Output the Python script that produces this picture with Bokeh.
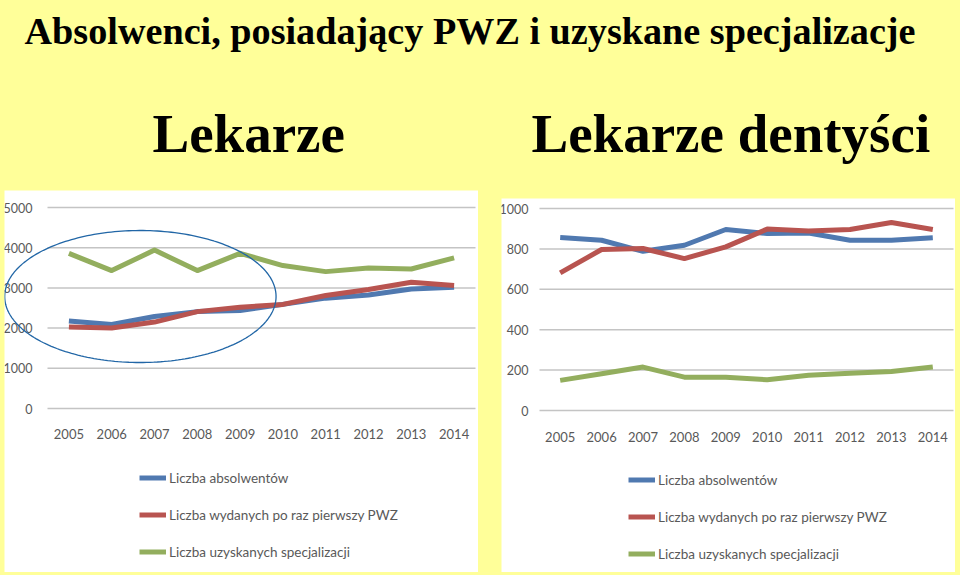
import numpy as np
from bokeh.plotting import figure
from bokeh.layouts import column, row
from bokeh.models import (Range1d, FixedTicker, Legend, LegendItem, PolyAnnotation, Label)
from bokeh.embed import file_html
from bokeh.resources import INLINE

# ---------------- data ----------------
years = [2005, 2006, 2007, 2008, 2009, 2010, 2011, 2012, 2013, 2014]

lek_absolwenci = [2175, 2090, 2290, 2410, 2440, 2590, 2745, 2825, 2975, 3015]
lek_pwz = [2025, 2000, 2150, 2410, 2520, 2590, 2810, 2960, 3140, 3060]
lek_specjalizacje = [3860, 3430, 3940, 3430, 3860, 3555, 3405, 3495, 3470, 3745]

den_absolwenci = [856, 843, 788, 818, 896, 876, 879, 843, 843, 855]
den_pwz = [681, 797, 802, 752, 810, 898, 889, 896, 931, 896]
den_specjalizacje = [149, 182, 215, 165, 165, 152, 174, 185, 193, 215]

lek_yticks = [0, 1000, 2000, 3000, 4000, 5000]
den_yticks = [0, 200, 400, 600, 800, 1000]

series_names = ["Liczba absolwentów",
                "Liczba wydanych po raz pierwszy PWZ",
                "Liczba uzyskanych specjalizacji"]

title_text = "Absolwenci, posiadający PWZ i uzyskane specjalizacje"
left_title = "Lekarze"
right_title = "Lekarze dentyści"

# ---------------- styles ----------------
YELLOW = "#FFFF99"
COLORS = ["#5079B0", "#B85450", "#93AE5E"]
AXIS_FONT = "Lato"
TICK_COLOR = "#595959"
GRID_COLOR = "#C4C4C4"


def make_chart(series, yticks, width, height, plot_left, plot_right, plot_top, plot_bottom,
               x_standoff, y_standoff, legend_loc):
    """The frame covers the whole white panel; the plotting area inside it is
    given in pixels (plot_left/right from the panel's left, plot_top/bottom from its top)."""
    x0, x1 = years[0] - 0.5, years[-1] + 0.5
    xs_per_px = (x1 - x0) / (plot_right - plot_left)
    ymin, ymax = yticks[0], yticks[-1]
    ys_per_px = (ymax - ymin) / (plot_bottom - plot_top)
    p = figure(width=width, height=height, output_backend="svg", toolbar_location=None,
               x_range=Range1d(x0 - plot_left * xs_per_px, x1 + (width - plot_right) * xs_per_px),
               y_range=Range1d(ymin - (height - plot_bottom) * ys_per_px,
                               ymax + plot_top * ys_per_px),
               min_border=0, min_border_left=0, min_border_right=0,
               min_border_top=0, min_border_bottom=0)
    p.border_fill_color = "white"
    p.background_fill_color = "white"
    p.outline_line_color = None

    p.xaxis.ticker = FixedTicker(ticks=years)
    p.yaxis.ticker = FixedTicker(ticks=yticks)
    p.xaxis.fixed_location = ymin
    p.yaxis.fixed_location = x0
    for ax in (p.xaxis[0], p.yaxis[0]):
        ax.axis_line_color = None
        ax.major_tick_line_color = None
        ax.minor_tick_line_color = None
        ax.major_label_text_font = AXIS_FONT
        ax.major_label_text_color = TICK_COLOR
    p.xaxis.major_label_text_font_size = "13px"
    p.yaxis.major_label_text_font_size = "12.5px"
    p.xaxis.major_label_standoff = x_standoff
    p.yaxis.major_label_standoff = y_standoff
    p.xgrid.grid_line_color = None
    p.ygrid.grid_line_color = None
    n = len(yticks)
    p.segment(x0=[x0] * n, x1=[x1] * n, y0=yticks, y1=yticks,
              line_color=GRID_COLOR, line_width=1.5)

    items = []
    for name, vals, col in zip(series_names, series, COLORS):
        r = p.line(years, vals, line_color=col, line_width=5, line_join="round")
        items.append(LegendItem(label=name, renderers=[r]))

    legend = Legend(items=items, location=legend_loc, orientation="vertical",
                    padding=0, margin=0, spacing=16, glyph_width=27, glyph_height=21,
                    label_height=21, label_standoff=3,
                    label_text_font=AXIS_FONT, label_text_font_size="13.5px",
                    label_text_color=TICK_COLOR,
                    border_line_alpha=0, background_fill_alpha=0)
    p.add_layout(legend, "center")
    return p


# ---------------- title strip ----------------
top = figure(width=960, height=190, output_backend="svg", toolbar_location=None,
             x_range=Range1d(0, 960), y_range=Range1d(0, 190),
             min_border=0, min_border_left=0, min_border_right=0,
             min_border_top=0, min_border_bottom=0)
top.axis.visible = False
top.grid.visible = False
top.outline_line_color = None
top.background_fill_color = YELLOW
top.border_fill_color = YELLOW
top.add_layout(Label(x=24, y=190 - 30, text=title_text, text_font="Liberation Serif",
                     text_font_style="bold", text_font_size="38.2px", text_color="black",
                     text_baseline="alphabetic"))
top.add_layout(Label(x=152, y=190 - 133, text=left_title, text_font="Liberation Serif",
                     text_font_style="bold", text_font_size="55px", text_color="black",
                     text_baseline="alphabetic"))
top.add_layout(Label(x=531, y=190 - 133, text=right_title, text_font="Liberation Serif",
                     text_font_style="bold", text_font_size="55px", text_color="black",
                     text_baseline="alphabetic"))

# ---------------- charts ----------------
left = make_chart([lek_absolwenci, lek_pwz, lek_specjalizacje], lek_yticks,
                  474, 382, 43, 471, 17, 218, 14, 9, (135, 10))
right = make_chart([den_absolwenci, den_pwz, den_specjalizacje], den_yticks,
                   454, 374, 38, 452, 10, 212, 15, 5, (127, 8))

# highlight ellipse on the left chart
cx, cy, rx, ry = 2006.67, 2786, 3.17, 1642
t = np.linspace(0, 2 * np.pi, 240)
left.add_layout(PolyAnnotation(xs=list(cx + rx * np.cos(t)), ys=list(cy + ry * np.sin(t)),
                               fill_alpha=0, line_alpha=1.0,
                               line_color="#2166A6", line_width=1.3))

left.margin = (0, 0, 3, 4)
right.margin = (8, 0, 0, 23)

charts = row(left, right, styles={"background-color": YELLOW})
page = column(top, charts, width=960, height=575, styles={"background-color": YELLOW})

open("out.html", "w").write(file_html(page, INLINE))
